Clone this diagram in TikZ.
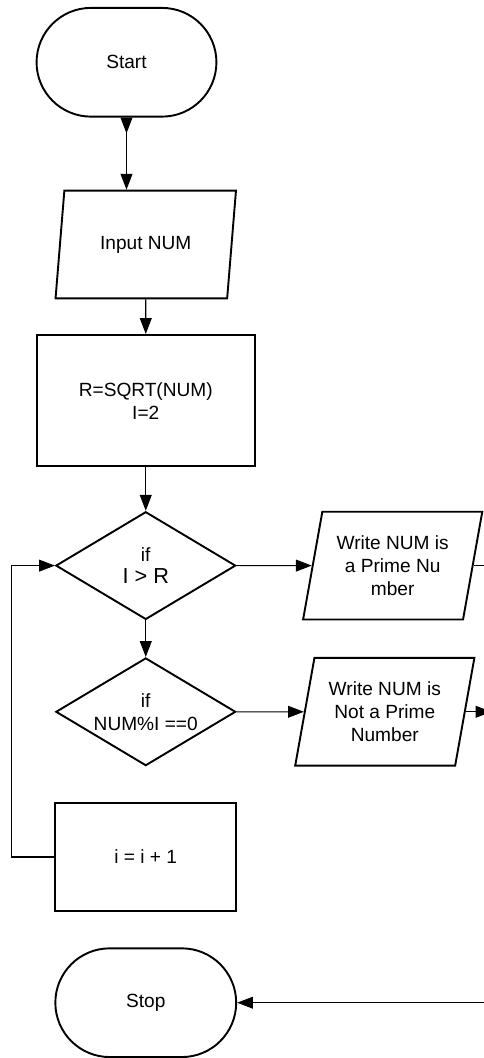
\documentclass[tikz,border=0pt]{standalone}
\usepackage{fontspec}
\setmainfont{Liberation Sans}
\usetikzlibrary{shapes.geometric, arrows.meta, positioning, calc}

\tikzstyle{term}     = [rectangle, rounded corners=1.1cm, minimum width=3.64cm,
                        minimum height=2.2cm, text centered, draw=black, line width=1.1pt]
\tikzstyle{io}       = [trapezium, trapezium left angle=76, trapezium right angle=104,
                        trapezium stretches=true, minimum width=3.66cm, minimum height=2.18cm,
                        align=center, draw=black, line width=1.1pt, inner sep=1pt]
\tikzstyle{process}  = [rectangle, align=center, draw=black, line width=1.1pt]
\tikzstyle{decision} = [diamond, aspect=1.67, minimum width=3.64cm, minimum height=2.18cm,
                        align=center, draw=black, line width=1.1pt, inner sep=0pt]
\tikzstyle{arrow}    = [-{Triangle[length=0.32cm,width=0.24cm]}, line width=0.6pt]

\begin{document}
\begin{tikzpicture}[font=\fontsize{11}{13.2}\selectfont]

  %% ── Main column ──
  \node[term] (start) {Start};
  \node[io, below=1.46cm of start, xshift=0.39cm] (input) {Input NUM};
  \node[process, below=0.70cm of input, minimum width=4.42cm, minimum height=2.66cm] (init)
        {R=SQRT(NUM)\\I=2};
  \node[decision, below=0.88cm of init] (cmp)
        {if\\{\fontsize{12.5}{14}\selectfont I > R}};
  \node[decision, below=0.74cm of cmp] (modchk)
        {if\\NUM\%I ==0};
  \node[process, below=0.72cm of modchk, minimum width=3.66cm, minimum height=2.18cm] (incr)
        {i = i + 1};
  \node[term, below=0.72cm of incr, minimum width=3.66cm] (stop) {Stop};

  %% ── Outputs ──
  \node[io, right=1.52cm of cmp] (prime)
        {Write NUM is\\a Prime Nu\\mber};
  \node[io, right=1.36cm of modchk] (notprime)
        {Write NUM is\\Not a Prime\\Number};
  \coordinate[right=0.52cm of notprime.east] (npout);

  \useasboundingbox ($(start.center)+(-2.56,1.26)$) rectangle ($(start.center)+(7.2,-19.9)$);

  %% ── Arrows ──
  \draw[{Triangle[reversed,length=0.32cm,width=0.24cm]}-{Triangle[length=0.32cm,width=0.24cm]},
        line width=0.6pt] (start.south) -- (start.south |- input.north);
  \draw[arrow] (input) -- (init);
  \draw[arrow] (init) -- (cmp);
  \draw[arrow] (cmp) -- (modchk);
  \draw[arrow] (cmp) -- (prime);
  \draw[arrow] (modchk) -- (notprime);
  \draw[arrow] (notprime.east) -- (npout);
  \draw[arrow] (prime.east) -- ++(0.4,0) |- (stop.east);
  \draw[arrow] (incr.west) -- ++(-0.86,0) |- (cmp.west);

\end{tikzpicture}
\end{document}
